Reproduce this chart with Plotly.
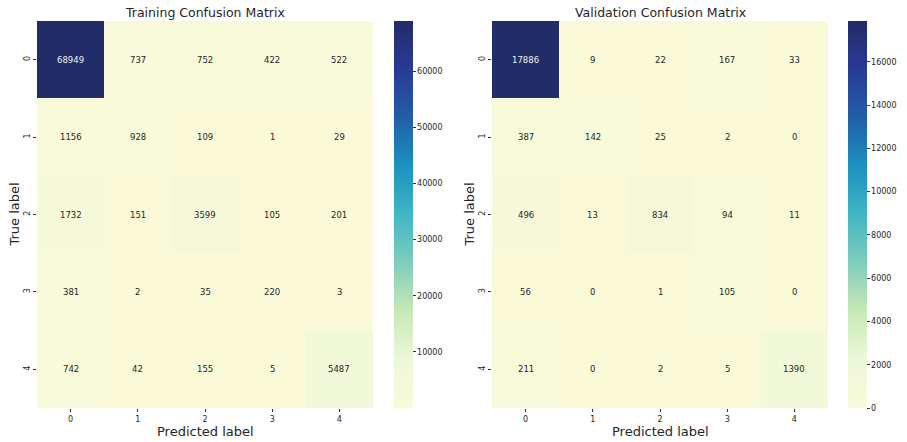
import plotly.graph_objects as go

labels = ["0", "1", "2", "3", "4"]

train_cm = [
    [68949, 737, 752, 422, 522],
    [1156, 928, 109, 1, 29],
    [1732, 151, 3599, 105, 201],
    [381, 2, 35, 220, 3],
    [742, 42, 155, 5, 5487],
]

val_cm = [
    [17886, 9, 22, 167, 33],
    [387, 142, 25, 2, 0],
    [496, 13, 834, 94, 11],
    [56, 0, 1, 105, 0],
    [211, 0, 2, 5, 1390],
]

train_ticks = [10000, 20000, 30000, 40000, 50000, 60000]
val_ticks = [0, 2000, 4000, 6000, 8000, 10000, 12000, 14000, 16000]

W, H = 907, 442
FONT = "DejaVu Sans"


def px_x(x):
    return x / W


def px_y(y):
    return 1 - y / H


# YlGnBu (as rendered in the reference)
colorscale = [
    [0.0, "rgb(250,250,217)"],
    [0.125, "rgb(237,248,217)"],
    [0.25, "rgb(199,233,180)"],
    [0.375, "rgb(127,205,187)"],
    [0.5, "rgb(65,182,196)"],
    [0.625, "rgb(29,145,192)"],
    [0.75, "rgb(34,94,168)"],
    [0.875, "rgb(40,58,150)"],
    [1.0, "rgb(34,44,104)"],
]

top_px, bot_px = 21, 408
y0, y1 = px_y(bot_px), px_y(top_px)

panels = [
    dict(cm=train_cm, ticks=train_ticks, title="Training Confusion Matrix",
         x0=37, x1=373, cb=394, xa="x", ya="y"),
    dict(cm=val_cm, ticks=val_ticks, title="Validation Confusion Matrix",
         x0=492, x1=828, cb=848, xa="x2", ya="y2"),
]

fig = go.Figure()
annotations = []
for i, p in enumerate(panels):
    cm = p["cm"]
    flat = [v for row in cm for v in row]
    zmin, zmax = min(flat), max(flat)
    fig.add_trace(go.Heatmap(
        z=cm, x=labels, y=labels,
        colorscale=colorscale, zmin=zmin, zmax=zmax,
        xaxis=p["xa"], yaxis=p["ya"],
        showscale=True,
        hoverinfo="skip",
        colorbar=dict(
            x=px_x(p["cb"]), xanchor="left", xref="paper",
            y=y0, yanchor="bottom", len=y1 - y0, lenmode="fraction",
            thickness=19, thicknessmode="pixels",
            outlinewidth=0, xpad=0, ypad=0,
            tickvals=p["ticks"], tickformat="d",
            ticks="outside", ticklen=3,
            tickcolor="#333", tickwidth=1,
            tickfont=dict(family=FONT, size=8, color="#262626"),
        ),
    ))
    for r in range(5):
        for c in range(5):
            v = cm[r][c]
            col = "#eeeeee" if v > (zmin + zmax) / 2 else "#262626"
            annotations.append(dict(
                x=labels[c], y=labels[r], xref=p["xa"], yref=p["ya"],
                text=str(v), showarrow=False,
                font=dict(family=FONT, size=8.5, color=col),
            ))
    cx = px_x((p["x0"] + p["x1"]) / 2)
    annotations.append(dict(
        x=cx, y=px_y(12), xref="paper", yref="paper",
        text=p["title"], showarrow=False,
        font=dict(family=FONT, size=12.5, color="#262626"),
        xanchor="center", yanchor="middle",
    ))
    annotations.append(dict(
        x=cx, y=px_y(431), xref="paper", yref="paper",
        text="Predicted label", showarrow=False,
        font=dict(family=FONT, size=13, color="#262626"),
        xanchor="center", yanchor="middle",
    ))
    annotations.append(dict(
        x=px_x(p["x0"] - 23), y=(y0 + y1) / 2, xref="paper", yref="paper",
        text="True label", showarrow=False, textangle=-90,
        font=dict(family=FONT, size=13, color="#262626"),
        xanchor="center", yanchor="middle",
    ))

axis_common = dict(
    showgrid=False, zeroline=False, showline=False, automargin=False,
    ticks="outside", ticklen=3, tickcolor="#333", tickwidth=1,
    tickfont=dict(family=FONT, size=8, color="#262626"),
    type="category",
)

fig.update_layout(
    width=W, height=H,
    margin=dict(l=0, r=0, t=0, b=0, autoexpand=False),
    paper_bgcolor="white", plot_bgcolor="white",
    font=dict(family=FONT),
    annotations=annotations,
    xaxis=dict(domain=[px_x(37), px_x(373)], anchor="y", **axis_common),
    yaxis=dict(domain=[y0, y1], anchor="x", autorange="reversed",
               tickangle=-90, **axis_common),
    xaxis2=dict(domain=[px_x(492), px_x(828)], anchor="y2", **axis_common),
    yaxis2=dict(domain=[y0, y1], anchor="x2", autorange="reversed",
                tickangle=-90, **axis_common),
)

# remove the browser's default 8px page margin so the figure fills the window
fig.write_html(
    "out.html",
    config={"displayModeBar": False},
    post_script="document.body.style.margin='0';document.body.style.overflow='hidden';",
)
